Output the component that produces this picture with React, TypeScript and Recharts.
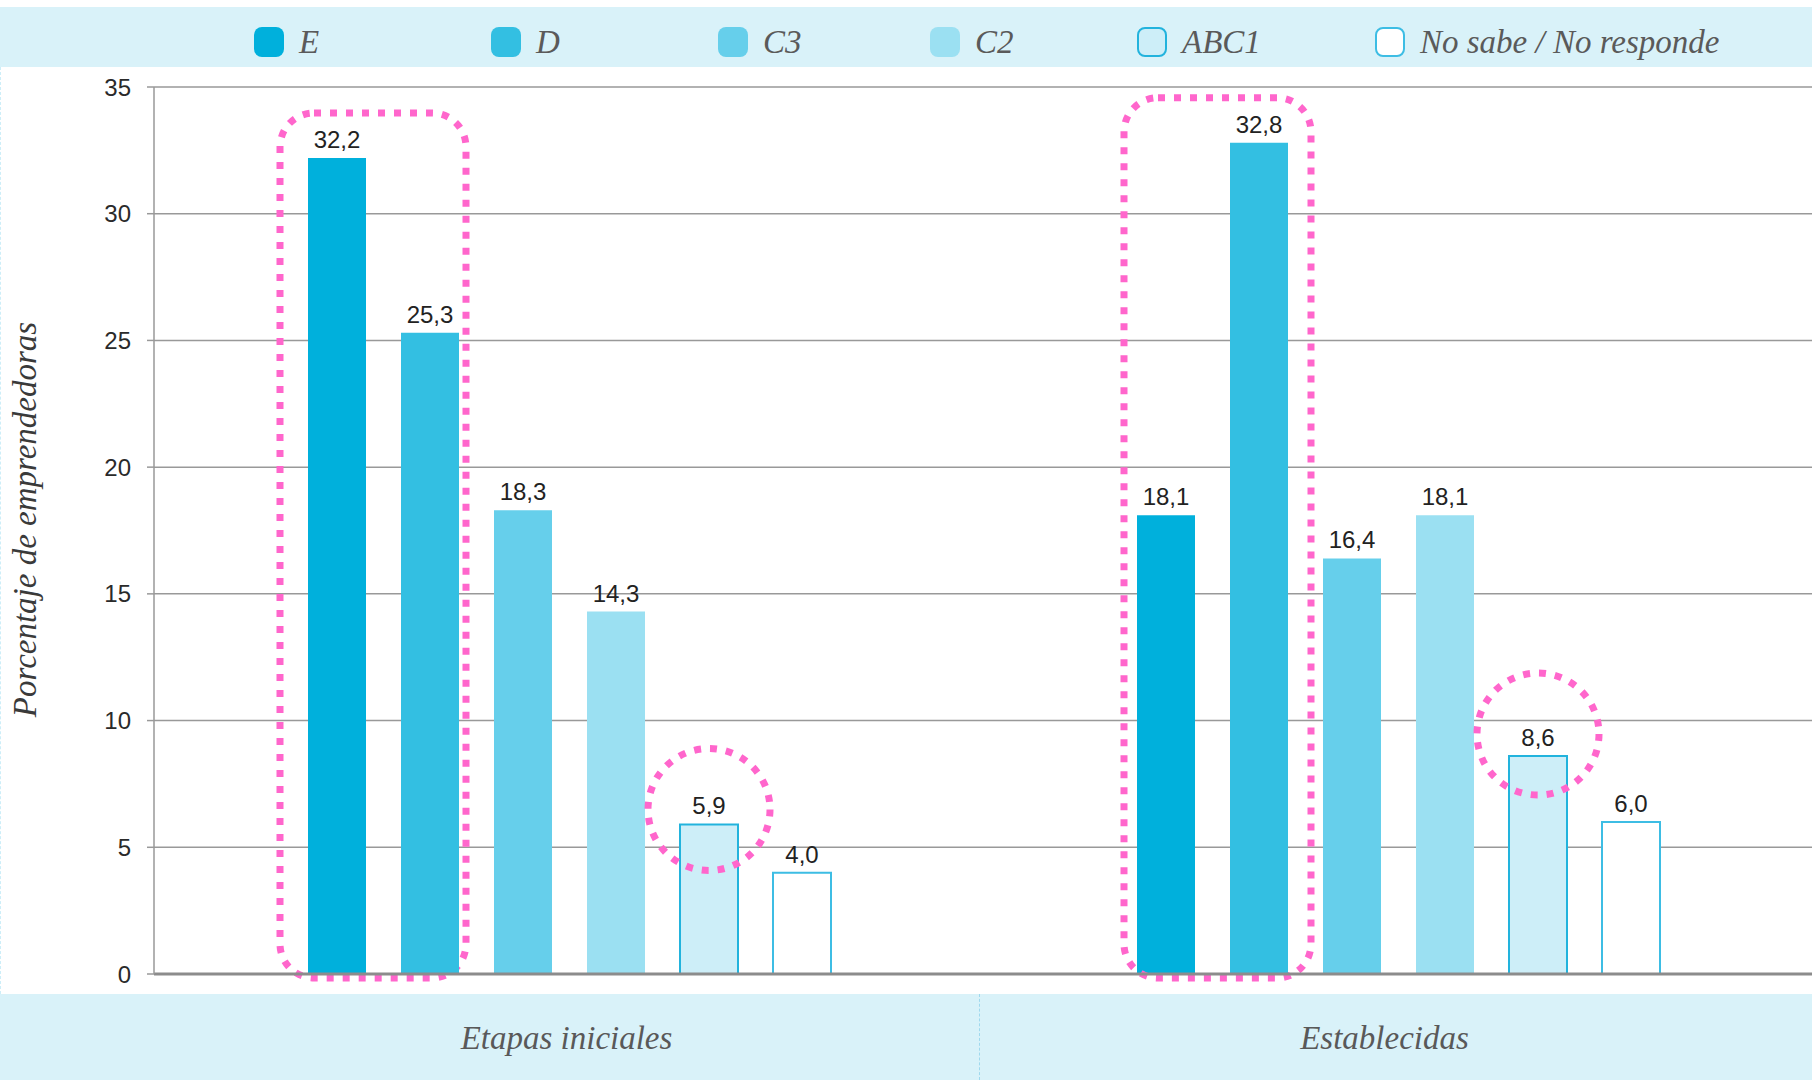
import React from "react";
import { Bar, BarChart, CartesianGrid, LabelList, Rectangle, XAxis, YAxis } from "recharts";

// values
const categories = ["Etapas iniciales", "Establecidas"];
const valuesE = [32.2, 18.1];
const valuesD = [25.3, 32.8];
const valuesC3 = [18.3, 16.4];
const valuesC2 = [14.3, 18.1];
const valuesABC1 = [5.9, 8.6];
const valuesNS = [4.0, 6.0];
const yTicks = [0, 5, 10, 15, 20, 25, 30, 35];

const series = [
  { key: "E", name: "E", values: valuesE, fill: "#00b0dc", stroke: "none" },
  { key: "D", name: "D", values: valuesD, fill: "#33bfe2", stroke: "none" },
  { key: "C3", name: "C3", values: valuesC3, fill: "#66cfeb", stroke: "none" },
  { key: "C2", name: "C2", values: valuesC2, fill: "#9be0f2", stroke: "none" },
  { key: "ABC1", name: "ABC1", values: valuesABC1, fill: "#cdeef8", stroke: "#22b3dd" },
  { key: "NS", name: "No sabe / No responde", values: valuesNS, fill: "#ffffff", stroke: "#3dbde4" },
];

const data = categories.map((category, i) => {
  const row: Record<string, string | number> = { category };
  series.forEach((s) => (row[s.key] = s.values[i]));
  return row;
});

const W = 1812;
const H = 1080;
const BAR_GAP = 35;
const PINK = "#ff66cc";
const BAND = "#d9f2f9";
const SERIF = "'Liberation Serif', 'Times New Roman', serif";
const SANS = "'Liberation Sans', Arial, sans-serif";

// hand-drawn highlight tweaks per group
const boxPad = [
  { left: 28, right: 7 },
  { left: 13, right: 23 },
];
const ringShift = [15, 22];
const legendLeft = [254, 491, 718, 930, 1137, 1375];
const categoryShift = [-2, -13];

const fmt = (v: number) => v.toFixed(1).replace(".", ",");

function BoxShape(props: any) {
  const { x, y, width, height, index, payload } = props;
  const bottom = y + height;
  const perUnit = height / payload.E;
  const top = bottom - Math.max(payload.E, payload.D) * perUnit - 45;
  const pad = boxPad[index] ?? boxPad[0];
  const left = x - pad.left;
  const right = x + 2 * width + BAR_GAP + pad.right;
  return (
    <g>
      <Rectangle {...props} />
      <rect
        x={left}
        y={top}
        width={right - left}
        height={bottom + 4 - top}
        rx={34}
        fill="none"
        stroke={PINK}
        strokeWidth={7}
        strokeDasharray="7 9"
      />
    </g>
  );
}

function RingShape(props: any) {
  const { x, y, width, index } = props;
  return (
    <g>
      <Rectangle {...props} />
      <circle
        cx={x + width / 2}
        cy={y - (ringShift[index] ?? 18)}
        r={61}
        fill="none"
        stroke={PINK}
        strokeWidth={7}
        strokeDasharray="7 9"
      />
    </g>
  );
}

function CategoryTick(props: any) {
  const { x, payload, index } = props;
  return (
    <text
      x={x + (categoryShift[index] ?? 0)}
      y={1049}
      textAnchor="middle"
      fontFamily={SERIF}
      fontStyle="italic"
      fontSize={33}
      fill="#595959"
    >
      {payload.value}
    </text>
  );
}

function YLabel(props: any) {
  const { viewBox } = props;
  const cy = viewBox.y + viewBox.height / 2 - 11;
  return (
    <text
      x={25}
      y={cy}
      transform={`rotate(-90, 25, ${cy})`}
      textAnchor="middle"
      dominantBaseline="central"
      fontFamily={SERIF}
      fontStyle="italic"
      fontSize={33}
      fill="#3a3a3a"
    >
      Porcentaje de emprendedoras
    </text>
  );
}

function LegendRow() {
  return (
    <div style={{ position: "absolute", left: 0, top: 7, width: W, height: 60, background: BAND }}>
      {series.map((s, i) => (
        <div
          key={s.key}
          style={{ position: "absolute", left: legendLeft[i], top: 20, display: "flex", alignItems: "center" }}
        >
          <span
            style={{
              width: 30,
              height: 30,
              borderRadius: 8,
              boxSizing: "border-box",
              background: s.fill,
              border: s.stroke === "none" ? "none" : `2px solid ${s.stroke}`,
            }}
          />
          <span
            style={{
              marginLeft: 15,
              fontFamily: SERIF,
              fontStyle: "italic",
              fontSize: 33,
              color: "#5a5a5a",
              lineHeight: "30px",
            }}
          >
            {s.name}
          </span>
        </div>
      ))}
    </div>
  );
}

export default function App() {
  return (
    <div style={{ position: "absolute", left: 0, top: 0, width: W, height: H, background: "#fff", overflow: "hidden" }}>
      <LegendRow />
      <div style={{ position: "absolute", left: 0, top: 67, height: 927, borderLeft: "1px dashed #cdeef8" }} />
      <div style={{ position: "absolute", left: 0, top: 994, width: W, height: 86, background: BAND }} />
      <div style={{ position: "absolute", left: 979, top: 994, height: 86, borderLeft: "1px dashed #9fd9ee" }} />
      <div style={{ position: "absolute", left: 0, top: 0 }}>
        <BarChart
          width={W}
          height={H}
          data={data}
          margin={{ top: 87, right: 0, bottom: 0, left: 0 }}
          barCategoryGap={154}
          barGap={BAR_GAP}
        >
          <CartesianGrid vertical={false} stroke="#999" strokeWidth={1.5} />
          <XAxis
            dataKey="category"
            height={106}
            axisLine={{ stroke: "#8c8c8c", strokeWidth: 3 }}
            tickLine={false}
            tick={<CategoryTick />}
          />
          <YAxis
            width={154}
            domain={[0, 35]}
            ticks={yTicks}
            interval={0}
            axisLine={{ stroke: "#999", strokeWidth: 1.5 }}
            tickLine={{ stroke: "#999", strokeWidth: 1.5 }}
            tickSize={7}
            tickMargin={16}
            tick={{ fill: "#2a2a2a", fontSize: 24, fontFamily: SANS }}
            label={<YLabel />}
          />
          {series.map((s) => (
            <Bar
              key={s.key}
              dataKey={s.key}
              name={s.name}
              fill={s.fill}
              stroke={s.stroke}
              strokeWidth={s.stroke === "none" ? 0 : 2}
              isAnimationActive={false}
              shape={s.key === "E" ? <BoxShape /> : s.key === "ABC1" ? <RingShape /> : undefined}
            >
              <LabelList
                dataKey={s.key}
                position="top"
                offset={10}
                formatter={(v: any) => fmt(Number(v))}
                fill="#222"
                fontSize={24}
                fontFamily={SANS}
              />
            </Bar>
          ))}
        </BarChart>
      </div>
    </div>
  );
}
